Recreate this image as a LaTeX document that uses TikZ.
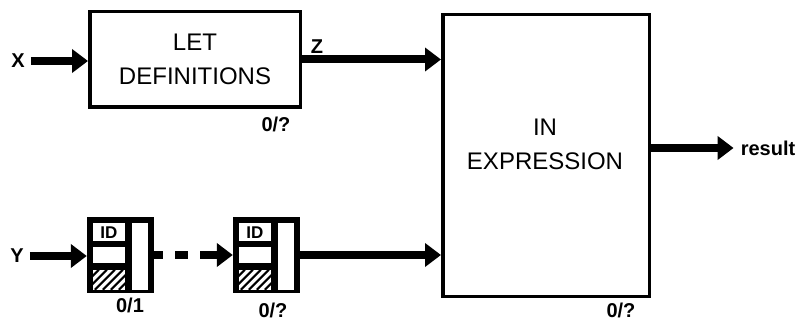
\documentclass[tikz,border=0pt]{standalone}
\usepackage{fontspec}
\setmainfont{Liberation Sans}
\usetikzlibrary{arrows.meta,calc}
\begin{document}
\begin{tikzpicture}[x=1pt,y=-1pt,
  box/.style={draw,line width=3.5pt,inner sep=0pt,align=center},
  flow/.style={line width=8pt,-{Triangle[length=16pt,width=23pt]}},
  lab/.style={font=\fontsize{20}{20}\selectfont\bfseries,inner sep=0pt},
  big/.style={font=\fontsize{24}{34}\selectfont},
  idframe/.style={fill=black,minimum width=67pt,minimum height=76pt,inner sep=0pt},
  cell/.style={fill=white},
  ]
\useasboundingbox (0,0) rectangle (797,320);
% main boxes
\node[box,big,minimum width=210.5pt,minimum height=95.5pt] (let) at (195,59.5) {LET\\DEFINITIONS};
\node[box,minimum width=206.5pt,minimum height=281.5pt] (in) at (546,155.5) {};
\node[big,align=center,inner sep=0pt] (intext) at (545,144) {IN\\EXPRESSION};
% labels
\node[lab] (X) at (18,61) {X};
\node[lab] (Z) at (317,47) {Z};
\node[lab] (Y) at (17,256) {Y};
\node[lab] (res) at (768,148) {result};
\node[lab] (c1) at (276,124) {0/?};
\node[lab] (c2) at (621,310) {0/?};
\node[lab] (c3) at (130,305) {0/1};
\node[lab] (c4) at (273,310) {0/?};
% id boxes
\node[idframe] (b1) at (120.5,255) {};
\node[idframe] (b2) at (266.5,255) {};
\foreach \b in {b1,b2}{
  \begin{scope}[shift={(\b.north west)}]
    \fill[cell] (6,6) rectangle (38,24);
    \node[font=\fontsize{17}{17}\selectfont\bfseries,inner sep=0pt] at (22,15.5) {ID};
    \fill[cell] (6,30) rectangle (38,46);
    \fill[cell] (6,53) rectangle (38,73);
    \fill[cell] (45,6) rectangle (61,73);
    \begin{scope}
      \clip (6,53) rectangle (38,73);
      \foreach \k in {-24,-16,...,40} \draw[line width=2pt] (\k,73) -- (\k+20,53);
    \end{scope}
  \end{scope}
}
% connectors
\draw[flow] ([xshift=6pt]X.east) -- (X -| let.west);
\draw[flow] (let.east) -- (let.east -| in.west);
\draw[flow] ([xshift=6pt]Y.east) -- (Y -| b1.west);
\draw[line width=8pt,dash pattern=on 9pt off 12pt on 13pt off 12pt on 60pt,-{Triangle[length=16pt,width=23pt]}] (b1.east) -- (b2.west);
\draw[flow] (b2.east) -- (b2.east -| in.west);
\draw[flow] (res -| in.east) -- ([xshift=-7pt]res.west);
\end{tikzpicture}
\end{document}
